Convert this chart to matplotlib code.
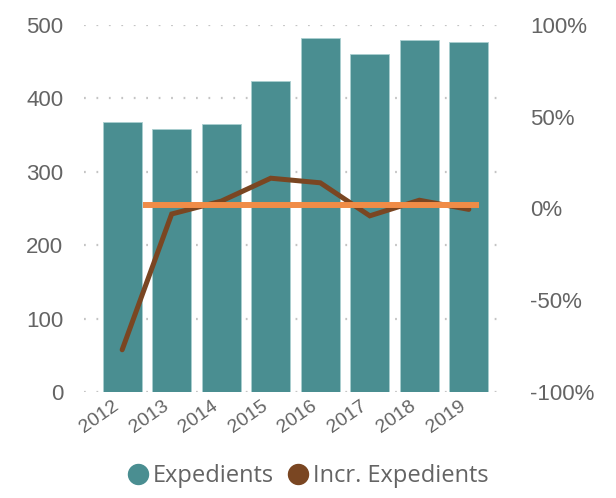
import numpy as np
import matplotlib
matplotlib.use("Agg")
import matplotlib.pyplot as plt
from matplotlib.lines import Line2D

years = ['2012', '2013', '2014', '2015', '2016', '2017', '2018', '2019']
expedients = [368, 358, 365, 424, 482, 461, 479, 477]
incr_expedients = [-77, -3, 4, 16.5, 14, -4, 4.5, -0.5]
avg_incr = 2

teal = '#4a8e91'
brown = '#7a4622'
orange = '#f08c47'
txt = '#646464'

plt.rcParams['font.family'] = ['Liberation Sans', 'DejaVu Sans']

fig = plt.figure(figsize=(6.16, 4.98), dpi=100)
ax = fig.add_axes([0.1364, 0.2129, 0.6834, 0.7369])
x = np.arange(len(years))

ax.bar(x, expedients, width=0.79, color=teal, edgecolor='#a9cfd0', linewidth=0.6, zorder=2)
ax.set_ylim(0, 500)
ax.set_xlim(-0.77, 7.73)
ax.set_yticks([0, 100, 200, 300, 400, 500])
ax.yaxis.grid(True, color='#c4c4c4', linestyle=(0, (0.8, 4.8)), linewidth=1.6, zorder=0)
ax.set_axisbelow(True)
for s in ax.spines.values():
    s.set_visible(False)
ax.tick_params(axis='y', length=0, labelsize=16, labelcolor=txt, pad=15)
ax.tick_params(axis='x', length=0, labelsize=14, labelcolor=txt, pad=4)
ax.set_xticks(x)
ax.set_xticklabels(years, rotation=35, ha='right', va='top')

ax2 = ax.twinx()
ax2.set_ylim(-100, 100)
ax2.set_yticks([-100, -50, 0, 50, 100])
ax2.set_yticklabels(['-100%', '-50%', '0%', '50%', '100%'])
for s in ax2.spines.values():
    s.set_visible(False)
ax2.tick_params(axis='y', length=0, labelsize=16, labelcolor=txt, pad=18)

ax2.plot(x, incr_expedients, color=brown, linewidth=3.6, solid_capstyle='round',
         solid_joinstyle='miter', zorder=3)
ax2.plot([0.42, 7.2], [avg_incr, avg_incr], color=orange, linewidth=4.3,
         solid_capstyle='butt', zorder=4)

handles = [Line2D([], [], marker='o', linestyle='none', markersize=14.4, color=teal),
           Line2D([], [], marker='o', linestyle='none', markersize=14.4, color=brown)]
fig.legend(handles, ['Expedients', 'Incr. Expedients'], loc='center',
           bbox_to_anchor=(0.5, 0.044), ncol=2, frameon=False,
           prop={'family': ['Open Sans', 'DejaVu Sans'], 'size': 17},
           labelcolor=txt, handletextpad=0.2, columnspacing=0.6, handlelength=0.85)

fig.savefig('out.png', dpi=100)
